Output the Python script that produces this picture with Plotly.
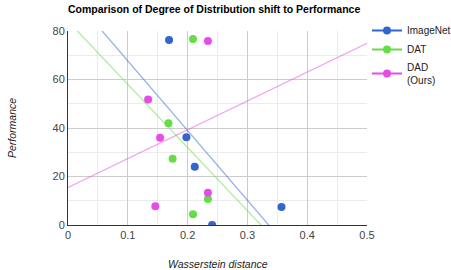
import numpy as np
import plotly.graph_objects as go

# Data
imagenet_x = [0.169, 0.198, 0.212, 0.241, 0.357]
imagenet_y = [76.3, 36.2, 24.0, 0.0, 7.4]
dat_x = [0.209, 0.168, 0.175, 0.234, 0.209]
dat_y = [76.7, 42.0, 27.3, 10.7, 4.4]
dad_x = [0.234, 0.134, 0.154, 0.234, 0.146]
dad_y = [75.9, 51.8, 36.0, 13.3, 7.7]

series_names = ["ImageNet", "DAT", "DAD<br>(Ours)"]
series_colors = ["#3366cc", "#66dd44", "#e84ce8"]
x_range = [0, 0.5]
y_range = [0, 80]

fig = go.Figure()
font_family = "Liberation Sans, Arial, sans-serif"

for xs, ys, name, col in zip([imagenet_x, dat_x, dad_x], [imagenet_y, dat_y, dad_y],
                             series_names, series_colors):
    # OLS trendline (like Google Charts linear trendline)
    slope, intercept = np.polyfit(xs, ys, 1)
    tx = np.array(x_range, dtype=float)
    fig.add_trace(go.Scatter(x=tx, y=slope * tx + intercept, mode="lines",
                             line=dict(color=col, width=1.3), opacity=0.5,
                             showlegend=False, hoverinfo="skip"))
    fig.add_trace(go.Scatter(x=xs, y=ys, mode="markers", name=name,
                             marker=dict(color=col, size=8), showlegend=False))
    fig.add_trace(go.Scatter(x=[None], y=[None], mode="lines+markers", name=name,
                             line=dict(color=col, width=2),
                             marker=dict(color=col, size=8)))

fig.update_layout(
    width=451, height=270,
    margin=dict(l=68, r=84, t=31, b=45, autoexpand=False),
    paper_bgcolor="white", plot_bgcolor="white",
    font=dict(family=font_family, size=11, color="#444"),
    title=dict(text="<b>Comparison of Degree of Distribution shift to Performance</b>",
               x=68 / 451, xref="container", xanchor="left",
               y=1 - 9 / 270, yref="container", yanchor="middle",
               font=dict(size=10.5, color="#000", family=font_family)),
    legend=dict(x=367 / 451, xanchor="left", y=1 - 16 / 270, yanchor="top",
                xref="container", yref="container",
                font=dict(size=10, color="#222"),
                itemwidth=30, tracegroupgap=0, bgcolor="rgba(0,0,0,0)"),
    showlegend=True,
)

fig.update_xaxes(range=x_range, dtick=0.1, tick0=0, showgrid=True,
                 gridcolor="#cccccc", gridwidth=1,
                 minor=dict(dtick=0.05, showgrid=True, gridcolor="#ebebeb"),
                 showline=True, linecolor="#333", linewidth=1,
                 zeroline=False, ticks="", tickfont=dict(size=11, color="#444"),
                 automargin=False, fixedrange=True)
fig.update_yaxes(range=y_range, dtick=20, tick0=0, showgrid=True,
                 gridcolor="#cccccc", gridwidth=1,
                 minor=dict(dtick=10, showgrid=True, gridcolor="#ebebeb"),
                 showline=True, linecolor="#333", linewidth=1,
                 zeroline=False, ticks="", tickfont=dict(size=11, color="#444"),
                 automargin=False, fixedrange=True)

fig.add_annotation(text="<i>Wasserstein distance</i>", xref="paper", yref="paper",
                   x=0.5, y=0, xanchor="center", yanchor="middle", yshift=-39,
                   showarrow=False, font=dict(size=10.5, color="#222"))
fig.add_annotation(text="<i>Performance</i>", xref="paper", yref="paper",
                   x=0, y=0.5, xanchor="center", yanchor="middle", xshift=-56,
                   textangle=-90, showarrow=False, font=dict(size=10.5, color="#222"))

fig.write_html("out.html", config={"displayModeBar": False},
               post_script="document.body.style.margin='0';")
